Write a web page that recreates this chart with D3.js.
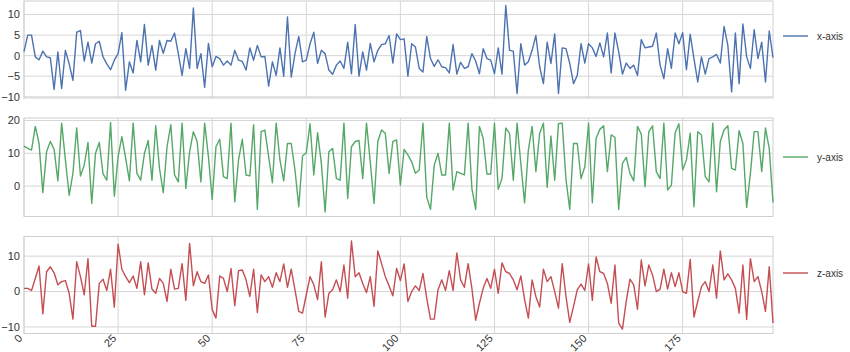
<!DOCTYPE html>
<html><head><meta charset="utf-8">
<script src="https://cdn.jsdelivr.net/npm/d3@7"></script>
<style>body{margin:0;background:#fff}svg{display:block}</style>
</head><body><svg id="c" width="850" height="352"></svg>
<script>
const xAxisValues = [1,5,5,-0.3,-1,1.1,-0.3,-0.5,-8.2,0.9,-8,1.3,-2,-6,5.7,6.1,-1.3,3.3,-1.8,2.9,3.5,-0.3,-2,-3.4,-1.1,0.5,5.6,-8.4,-1.5,-4.2,3.7,-1.5,7.6,-2.3,2.5,-3.5,3.7,0.6,3.7,3.5,5.5,0.5,-4.8,1.7,-3.1,11.6,-3.1,0.5,-7.7,3,
-2.7,-0.2,-0.7,-2.3,-1.3,-2.3,1.3,-1.1,-1.4,-3.5,1.9,-1.1,2.5,-0.3,-0.2,-7.4,-1.5,-4.8,1.9,-5,9.4,-5.2,0.5,4.7,-1.5,-1.1,2.9,5.7,-1.9,1.3,0.5,-3.5,-4.5,-2.3,-1.3,-3.1,3.3,-4.4,7.6,-5,0.9,-3.5,3,-1.5,1.3,2.7,2.9,4.9,-1.8,5.3,
3.9,4.1,-5,2.9,2.1,-3.1,-4,4.7,-0.7,-2.6,-1,-2.7,-2.9,-4.2,2.7,-4.5,-1.6,-3.1,-2.7,0.5,-1.3,-4.4,1.7,-0.7,-1.1,-4.4,1.9,-4.5,12.2,1.3,1.1,-9.2,2.9,-2.3,-1.5,1.3,4.9,-2.7,-6.8,3.3,-1.9,5.3,-9.2,1.9,1.7,-1.9,-6.8,-4.8,2.9,-1.8,
2.9,1.9,-0.2,3.1,-0.3,5.5,-4.2,5.5,1,-4.5,-1.8,-3.1,-2.3,-4.8,3.9,1.9,2.1,2.3,5.5,-2.3,-5.6,1.7,-3.1,5.5,2.9,5.6,-3.4,5.2,-0.7,-6.4,-0.3,-4.5,-0.7,-0.3,0.3,-1.8,7.1,2.5,-8.8,5.5,-6.8,7.7,-0.3,-3.1,6.3,-0.7,3.3,-6.4,6,-0.5];
const yAxisValues = [12.2,11.5,11,18.2,13,-2,10.5,13.6,11.2,1.6,19.2,8,-2.8,3.9,17.7,3.1,6.4,13.3,-5.3,10,13.3,3.7,1.8,19.4,-3.1,9,15.1,8.5,1.6,19.2,3.9,1.8,10,13.9,1.8,18.4,5.4,-2,12,18.7,3.4,1.3,19.2,-0.7,10.5,16.6,13.6,1.3,19.2,9,
-4.1,12,14.3,2.9,2.3,19.2,-4.8,8,14.3,3.4,3.1,18.7,-7.1,16.6,17.1,9,1,19.2,8,1.6,13,13,4.9,-6.3,9.2,10.2,19,3.4,16.3,7,-7.9,10.5,11.5,2.3,1.8,19.2,-3.8,12,13.6,13.9,2.3,19.2,7.4,-5.3,13.6,17.1,16.1,3.9,13.6,14.1,
0.3,11.2,9.5,7.4,3.9,4.9,19.2,-3.3,-7.1,6.4,10,3.4,3.4,19.2,-1.2,4.4,3.9,3.4,19.2,-0.7,-7.1,18.2,14.6,3.7,3.7,19.2,-1,2.3,17.7,16.1,1.8,19.2,6.9,-5.1,11,18.2,4.4,16.1,19.2,-0.4,15.3,1.8,19,19.2,2,-7.1,13,13,2.3,5.9,
19.2,-5.1,14.6,17.3,18.4,4.4,15.6,14.9,-7.1,6.9,8.8,3.9,1.6,18.2,15.9,-0.2,16.6,18.4,4.4,2.3,19.2,-1.2,0.3,16.3,19,4.9,8,16.1,-6.3,16.6,15.6,2.9,1.3,19.2,-1.7,13.6,17.1,18.4,5.4,4.9,16.9,13,-6.5,3.9,16.6,16.6,4.4,17.7,11.5,-5];
const zAxisValues = [0.9,0.9,0.3,3.7,7.2,-6.3,5.6,7,5.3,1.9,2.8,3.1,-0.5,-7.8,8.4,4.2,-0.9,9.3,-9.8,-9.8,2.3,3.5,0.3,6.3,-4.4,13.4,6.3,4.2,2.5,4.4,0.9,8.4,-0.9,8.1,0.7,-0.5,3.7,2.3,-2.8,6.3,0.7,0.9,7.9,-2.5,13.6,1.6,5.6,2.8,2.3,4.7,
-5.1,-7.5,4.4,3.7,0,6.5,-4,5.9,6.1,3.3,-1.4,6.3,-5.9,4.7,2.8,4.2,1.2,5.3,2.8,7.8,1.2,6.3,0.5,-5.6,-6.1,-0.9,4.2,1.9,-2.3,8.4,-7.2,-0.5,0.5,3.3,0,7.5,-1.9,14.3,4.2,5.3,2.3,-0.3,4.2,-4.2,11.5,7.9,4.2,1.6,-1.2,6.5,
3.1,7.8,-2.8,0,1.6,0.3,5.1,-1.9,-7.8,-7.8,0.5,3.3,0.3,5.9,0.3,10.9,3.3,1.2,7.9,0.9,-8.1,-3.3,0.9,3.7,0.9,6.3,-0.5,8.1,5.6,5.1,3.3,0.5,4.4,-2.3,-7.5,3.3,-1.4,-4.4,6.3,2.8,4.2,0,-4.7,7.9,-1.4,-8.7,-4.2,0.5,2.1,0.3,
7.8,-2.5,9.8,5.6,5.1,2.3,-3.3,7.5,-8.9,-10.6,-2.8,3.5,1.9,-5,8.9,1.6,7.5,4.7,0,0.7,6.3,0.7,5.3,1.4,5.3,0,-0.5,9.1,-7.2,-2.8,1.4,2.8,0,7.5,-1.9,11.5,3.3,5,3.3,0.9,-6.1,7.5,-7.9,9.3,2.8,4.2,0,-5.6,7,-8.9];
const seriesNames = ["x-axis","y-axis","z-axis"];
const seriesColors = ["#4C72B0","#55A868","#C44E52"];
const xTicks = [0,25,50,75,100,125,150,175];
const yTicks1 = [-10,-5,0,5,10];
const yTicks2 = [0,10,20];
const yTicks3 = [-10,0,10];
const yDomain1 = [-10.3,13.3];
const yDomain2 = [-9.27,20.77];
const yDomain3 = [-11.85,15.55];

const svg = d3.select("#c");
const left = 24, right = 773;
const idx = d3.range(xAxisValues.length);
const x = d3.scaleLinear().domain([0, xAxisValues.length-1]).range([left, right]);

const panels = [
  {vals:xAxisValues, top:1, bottom:98, dom:yDomain1, ticks:yTicks1, legY:36},
  {vals:yAxisValues, top:118, bottom:216.5, dom:yDomain2, ticks:yTicks2, legY:157},
  {vals:zAxisValues, top:236.5, bottom:333.5, dom:yDomain3, ticks:yTicks3, legY:273}
];
const font = "'Liberation Sans', Arial, sans-serif";
const fmt = d3.format("d");

panels.forEach((p, k) => {
  const y = d3.scaleLinear().domain(p.dom).range([p.bottom, p.top]);
  const g = svg.append("g");
  g.selectAll(".hg").data(p.ticks).join("line")
    .attr("x1", left).attr("x2", right)
    .attr("y1", d => y(d)).attr("y2", d => y(d))
    .attr("stroke", "#d6d6d6").attr("stroke-width", 1);
  g.selectAll(".vg").data(xTicks).join("line")
    .attr("x1", d => x(d)).attr("x2", d => x(d))
    .attr("y1", p.top).attr("y2", p.bottom)
    .attr("stroke", "#d6d6d6").attr("stroke-width", 1);
  g.append("rect").attr("x", left).attr("y", p.top)
    .attr("width", right-left).attr("height", p.bottom-p.top)
    .attr("fill", "none").attr("stroke", "#cfcfcf").attr("stroke-width", 1);
  g.selectAll(".yl").data(p.ticks).join("text")
    .attr("x", left-4).attr("y", d => y(d)).attr("dy", "0.35em")
    .attr("text-anchor", "end").attr("font-family", font).attr("font-size", 11)
    .attr("fill", "#333").text(d => fmt(d));
  const line = d3.line().x(i => x(i)).y(i => y(p.vals[i]));
  g.append("path").datum(idx).attr("d", line)
    .attr("fill", "none").attr("stroke", seriesColors[k])
    .attr("stroke-width", 1.4).attr("stroke-linejoin", "round");
  g.append("line").attr("x1", 783).attr("x2", 808)
    .attr("y1", p.legY).attr("y2", p.legY)
    .attr("stroke", seriesColors[k]).attr("stroke-width", 1.4);
  g.append("text").attr("x", 817).attr("y", p.legY).attr("dy", "0.35em")
    .attr("font-family", font).attr("font-size", 10).attr("fill", "#333")
    .text(seriesNames[k]);
  if (k === 2) {
    g.selectAll(".xl").data(xTicks).join("text")
      .attr("transform", d => `translate(${x(d)-1},${p.bottom+5.5}) rotate(-45)`)
      .attr("text-anchor", "end")
      .attr("font-family", font).attr("font-size", 11).attr("fill", "#333")
      .text(d => fmt(d));
  }
});
</script></body></html>
